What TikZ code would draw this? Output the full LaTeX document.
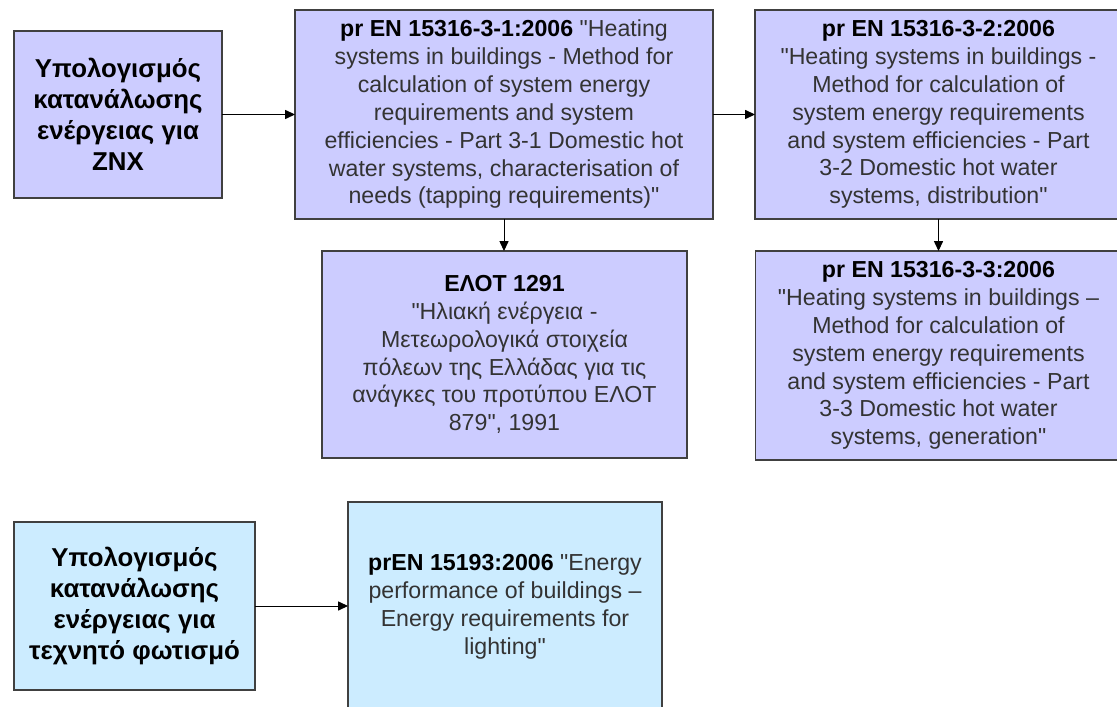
\documentclass[tikz,border=0pt]{standalone}
\usepackage{fontspec}
\newfontfamily\arialfont{Liberation Sans}
\usetikzlibrary{arrows.meta}
\definecolor{lavender}{RGB}{204,204,255}
\definecolor{paleblue}{RGB}{204,236,255}
\definecolor{boxline}{RGB}{64,64,64}
\definecolor{bodytext}{RGB}{51,51,51}

\begin{document}
\begin{tikzpicture}
  [x=0.6pt,y=-0.6pt,
  topic/.style={rectangle,draw=boxline,fill=lavender,line width=0.8pt,align=center,
                  outer sep=0,inner sep=0,font=\arialfont\fontsize{15.5}{18.5}\selectfont\bfseries},
  lighttopic/.style={topic,fill=paleblue},
  standard/.style={rectangle,draw=boxline,fill=lavender,line width=0.8pt,align=center,
                  outer sep=0,inner sep=0,text=bodytext,font=\arialfont\fontsize{13.9}{16.7}\selectfont},
  lightstandard/.style={standard,fill=paleblue},
  link/.style={line width=0.6pt,-{Triangle[length=6pt,width=5.5pt]}}
                  ]
  \useasboundingbox (0,0) rectangle (1117,706);
  \clip (0,0) rectangle (1117,706);

  \node[topic,minimum width=124.8pt,minimum height=100.2pt] (znx) at (118,114.5)
    {Υπολογισμός\\κατανάλωσης\\ενέργειας για\\ΖΝΧ};
  \node[standard,minimum width=250.8pt,minimum height=125.4pt] (en31) at (504,114.5)
    {{\color{black}\bfseries pr EN 15316-3-1:2006} "Heating\\systems in buildings - Method for\\calculation of system energy\\requirements and system\\efficiencies - Part 3-1 Domestic hot\\water systems, characterisation of\\needs (tapping requirements)"};
  \node[standard,minimum width=220.2pt,minimum height=125.4pt] (en32) at (938.5,114.5)
    {{\color{black}\bfseries pr EN 15316-3-2:2006}\\"Heating systems in buildings -\\Method for calculation of\\system energy requirements\\and system efficiencies - Part\\3-2 Domestic hot water\\systems, distribution"};
  \node[standard,minimum width=219pt,minimum height=124.2pt] (elot) at (504.5,354.5)
    {{\color{black}\bfseries ΕΛΟΤ 1291}\\"Ηλιακή ενέργεια -\\Μετεωρολογικά στοιχεία\\πόλεων της Ελλάδας για τις\\ανάγκες του προτύπου ΕΛΟΤ\\879", 1991};
  \node[standard,minimum width=219.6pt,minimum height=125.4pt] (en33) at (938.5,355.5)
    {{\color{black}\bfseries pr EN 15316-3-3:2006}\\"Heating systems in buildings –\\Method for calculation of\\system energy requirements\\and system efficiencies - Part\\3-3 Domestic hot water\\systems, generation"};
  \node[lighttopic,minimum width=144.6pt,minimum height=100.8pt] (light) at (134.5,606)
    {Υπολογισμός\\κατανάλωσης\\ενέργειας για\\τεχνητό φωτισμό};
  \node[lightstandard,minimum width=188.4pt,minimum height=126pt] (en193) at (505,607)
    {{\color{black}\bfseries prEN 15193:2006} "Energy\\performance of buildings –\\Energy requirements for\\lighting"};

  \draw[link] (znx) to (en31);
  \draw[link] (en31) to (en32);
  \draw[link] (en31.south) to (en31.south |- elot.north);
  \draw[link] (en32.south) to (en32.south |- en33.north);
  \draw[link] (light.east) to (light.east -| en193.west);
\end{tikzpicture}
\end{document}
